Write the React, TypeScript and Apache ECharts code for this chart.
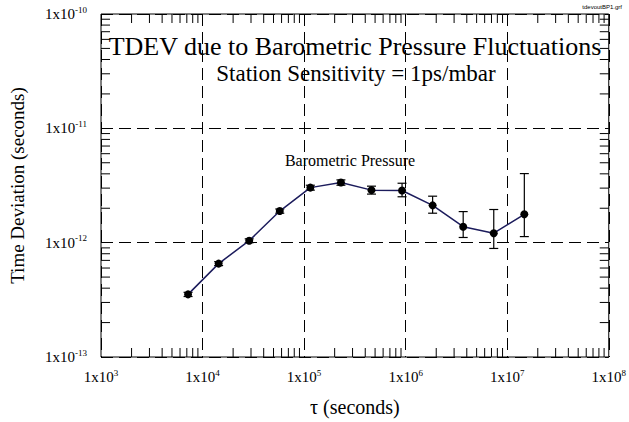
import React, { useEffect, useRef } from "react";
import * as echarts from "echarts";

const tau = [7200, 14400, 28800, 57600, 115200, 230400, 460800, 921600, 1843200, 3686400, 7372800, 14745600];
const tdev = [3.53e-13, 6.56e-13, 1.04e-12, 1.89e-12, 3.03e-12, 3.36e-12, 2.88e-12, 2.86e-12, 2.12e-12, 1.38e-12, 1.21e-12, 1.77e-12];
const errLow = [3.38e-13, 6.3e-13, 1.0e-12, 1.81e-12, 2.88e-12, 3.18e-12, 2.66e-12, 2.52e-12, 1.81e-12, 1.11e-12, 0.89e-12, 1.13e-12];
const errHigh = [3.68e-13, 6.82e-13, 1.08e-12, 1.97e-12, 3.18e-12, 3.54e-12, 3.12e-12, 3.31e-12, 2.55e-12, 1.87e-12, 1.95e-12, 4.02e-12];
const xDecades = [3, 4, 5, 6, 7, 8];
const yDecades = [-13, -12, -11, -10];

const FONT = "'Liberation Serif', 'Times New Roman', serif";

export default function App() {
  const ref = useRef<HTMLDivElement>(null);
  useEffect(() => {
    const chart = echarts.init(ref.current!, null, { renderer: "svg" });
    const xMin = Math.pow(10, xDecades[0]);
    const xMax = Math.pow(10, xDecades[xDecades.length - 1]);
    const yMin = Math.pow(10, yDecades[0]);
    const yMax = Math.pow(10, yDecades[yDecades.length - 1]);

    const xMinor: number[] = [];
    for (let i = 0; i < xDecades.length - 1; i++) for (let m = 2; m <= 9; m++) xMinor.push(m * Math.pow(10, xDecades[i]));
    const yMinor: number[] = [];
    for (let i = 0; i < yDecades.length - 1; i++) for (let m = 2; m <= 9; m++) yMinor.push(m * Math.pow(10, yDecades[i]));

    const TL = 9;
    const tickStyle = { stroke: "#000", lineWidth: 1 };

    const fmt = (v: number) => {
      const e = Math.round(Math.log10(v));
      return `{b|1x10}{s|${e}}`;
    };
    const rich = {
      b: { fontFamily: FONT, fontSize: 15, color: "#000" },
      s: { fontFamily: FONT, fontSize: 9, color: "#000", padding: [0, 0, 9, 0] },
    };

    const txt = (text: string, x: number, y: number, size: number) => ({
      type: "text",
      x,
      y,
      style: {
        text,
        fontFamily: FONT,
        fontSize: size,
        font: `${size}px ${FONT}`,
        fill: "#000",
        align: "center",
        verticalAlign: "middle",
      },
    });

    chart.setOption({
      animation: false,
      grid: { left: 95, right: 18, top: 14, bottom: 62, show: true, borderColor: "#000", borderWidth: 1 },
      xAxis: {
        type: "log",
        logBase: 10,
        min: xMin,
        max: xMax,
        name: "τ (seconds)",
        nameLocation: "middle",
        nameGap: 40,
        nameTextStyle: { fontFamily: FONT, fontSize: 20, color: "#000" },
        axisLine: { show: false },
        axisTick: { show: false },
        axisLabel: { formatter: fmt, rich, margin: 11, showMinLabel: true, showMaxLabel: true },
        splitLine: { show: true, lineStyle: { color: "#000", type: [12, 6], width: 1 } },
      },
      yAxis: {
        type: "log",
        logBase: 10,
        min: yMin,
        max: yMax,
        name: "Time Deviation (seconds)",
        nameLocation: "middle",
        nameGap: 74,
        nameTextStyle: { fontFamily: FONT, fontSize: 19, color: "#000" },
        axisLine: { show: false },
        axisTick: { show: false },
        axisLabel: { formatter: fmt, rich, margin: 14 },
        splitLine: { show: true, lineStyle: { color: "#000", type: [12, 6], width: 1 } },
      },
      graphic: [
        {
          type: "text",
          x: 622,
          y: 7,
          style: {
            text: "tdevoutBP1.grf",
            fontFamily: "'Liberation Sans', Arial, sans-serif",
            fontSize: 6,
            font: "6px 'Liberation Sans', Arial, sans-serif",
            fill: "#000",
            align: "right",
            verticalAlign: "middle",
          },
        },
        txt("TDEV due to Barometric Pressure Fluctuations", 355, 46, 26),
        txt("Station Sensitivity = 1ps/mbar", 356, 73, 23),
        txt("Barometric Pressure", 350, 160, 16),
      ],
      series: [
        {
          type: "custom",
          silent: true,
          data: xMinor.map((v) => [v, yMin]),
          renderItem: (params: any, api: any) => {
            const v = api.value(0);
            const b = api.coord([v, yMin]);
            const t = api.coord([v, yMax]);
            return {
              type: "group",
              children: [
                { type: "line", shape: { x1: b[0], y1: b[1], x2: b[0], y2: b[1] - TL }, style: tickStyle },
                { type: "line", shape: { x1: t[0], y1: t[1], x2: t[0], y2: t[1] + TL }, style: tickStyle },
              ],
            };
          },
        },
        {
          type: "custom",
          silent: true,
          data: yMinor.map((v) => [xMin, v]),
          renderItem: (params: any, api: any) => {
            const v = api.value(1);
            const l = api.coord([xMin, v]);
            const r = api.coord([xMax, v]);
            return {
              type: "group",
              children: [
                { type: "line", shape: { x1: l[0], y1: l[1], x2: l[0] + TL, y2: l[1] }, style: tickStyle },
                { type: "line", shape: { x1: r[0], y1: r[1], x2: r[0] - TL, y2: r[1] }, style: tickStyle },
              ],
            };
          },
        },
        {
          type: "custom",
          silent: true,
          z: 4,
          data: tau.map((t, i) => [t, errLow[i], errHigh[i]]),
          renderItem: (params: any, api: any) => {
            const x = api.value(0);
            const lo = api.coord([x, api.value(1)]);
            const hi = api.coord([x, api.value(2)]);
            const w = 4.5;
            const st = { stroke: "#000", lineWidth: 1.2 };
            return {
              type: "group",
              children: [
                { type: "line", shape: { x1: lo[0], y1: lo[1], x2: hi[0], y2: hi[1] }, style: st },
                { type: "line", shape: { x1: lo[0] - w, y1: lo[1], x2: lo[0] + w, y2: lo[1] }, style: st },
                { type: "line", shape: { x1: hi[0] - w, y1: hi[1], x2: hi[0] + w, y2: hi[1] }, style: st },
              ],
            };
          },
        },
        {
          type: "line",
          z: 5,
          data: tau.map((t, i) => [t, tdev[i]]),
          symbol: "circle",
          symbolSize: 8,
          showAllSymbol: true,
          itemStyle: { color: "#000" },
          lineStyle: { color: "#1c1c5c", width: 1.5 },
        },
      ],
    });
    return () => chart.dispose();
  }, []);
  return <div ref={ref} style={{ width: 629, height: 422, position: "absolute", left: 0, top: 0 }} />;
}
